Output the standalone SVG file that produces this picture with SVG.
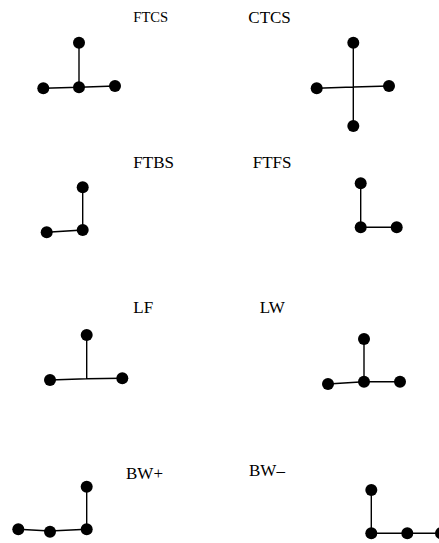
<svg xmlns="http://www.w3.org/2000/svg" width="439" height="543" viewBox="0 0 439 543">
  <style>
    text { font-family: "Liberation Serif", "Times New Roman", serif; font-size: 17px; fill: #000; }
    .edge { stroke: #000; stroke-width: 1.4; fill: none; }
    .pt { fill: #000; }
  </style>
  <rect width="439" height="543" fill="#fff"/>

  <!-- stencil labels -->
  <g id="labels">
    <text x="133.3" y="22.3" style="font-size:14.6px">FTCS</text>
    <text x="248.3" y="23.3">CTCS</text>
    <text x="133.3" y="168.3">FTBS</text>
    <text x="252.7" y="168.3">FTFS</text>
    <text x="133.3" y="313.3">LF</text>
    <text x="259.7" y="313.3">LW</text>
    <text x="126" y="479.3">BW+</text>
    <text x="249" y="476">BW–</text>
  </g>

  <!-- connectors -->
  <g id="connectors">
    <!-- FTCS -->
    <path class="edge" d="M79 43V87.3M43.3 88.3L79 87.3L115 86"/>
    <!-- CTCS -->
    <path class="edge" d="M353.3 42.7V126M316.7 88.3L353.3 87L389 86"/>
    <!-- FTBS -->
    <path class="edge" d="M82.7 187.3V230L46.7 232.3"/>
    <!-- FTFS -->
    <path class="edge" d="M360.7 183.3V227.3H396.7"/>
    <!-- LF -->
    <path class="edge" d="M86.7 335V378.7M50 380L86.7 378.7L122.3 378.3"/>
    <!-- LW -->
    <path class="edge" d="M364 339V381.7M328 384L364 381.7H400"/>
    <!-- BW+ -->
    <path class="edge" d="M86.7 486.7V529.3M18.3 529.3L50 531L86.7 529.3"/>
    <!-- BW- -->
    <path class="edge" d="M371.3 490V533.3H441"/>
  </g>

  <!-- grid points -->
  <g id="node-ftcs">
    <circle class="pt" cx="79" cy="42.7" r="6"/>
    <circle class="pt" cx="79" cy="87.3" r="6"/>
    <circle class="pt" cx="43.3" cy="88.3" r="6"/>
    <circle class="pt" cx="115" cy="86" r="6"/>
  </g>
  <g id="node-ctcs">
    <circle class="pt" cx="353.3" cy="42.7" r="6"/>
    <circle class="pt" cx="316.7" cy="88.3" r="6"/>
    <circle class="pt" cx="389" cy="86" r="6"/>
    <circle class="pt" cx="353.3" cy="126" r="6"/>
  </g>
  <g id="node-ftbs">
    <circle class="pt" cx="82.7" cy="187.3" r="6"/>
    <circle class="pt" cx="82.7" cy="230" r="6"/>
    <circle class="pt" cx="46.7" cy="232.3" r="6"/>
  </g>
  <g id="node-ftfs">
    <circle class="pt" cx="360.7" cy="183.3" r="6"/>
    <circle class="pt" cx="360.7" cy="227.3" r="6"/>
    <circle class="pt" cx="396.7" cy="227.3" r="6"/>
  </g>
  <g id="node-lf">
    <circle class="pt" cx="86.7" cy="335" r="6"/>
    <circle class="pt" cx="50" cy="380" r="6"/>
    <circle class="pt" cx="122.3" cy="378.3" r="6"/>
  </g>
  <g id="node-lw">
    <circle class="pt" cx="364" cy="339" r="6"/>
    <circle class="pt" cx="364" cy="381.7" r="6"/>
    <circle class="pt" cx="328" cy="384" r="6"/>
    <circle class="pt" cx="400" cy="381.7" r="6"/>
  </g>
  <g id="node-bwplus">
    <circle class="pt" cx="86.7" cy="486.7" r="6"/>
    <circle class="pt" cx="86.7" cy="529.3" r="6"/>
    <circle class="pt" cx="50" cy="531.7" r="6"/>
    <circle class="pt" cx="18.3" cy="529.3" r="6"/>
  </g>
  <g id="node-bwminus">
    <circle class="pt" cx="371.3" cy="490" r="6"/>
    <circle class="pt" cx="371.3" cy="533.3" r="6"/>
    <circle class="pt" cx="407.3" cy="533.3" r="6"/>
    <circle class="pt" cx="441" cy="533.3" r="6"/>
  </g>
</svg>
